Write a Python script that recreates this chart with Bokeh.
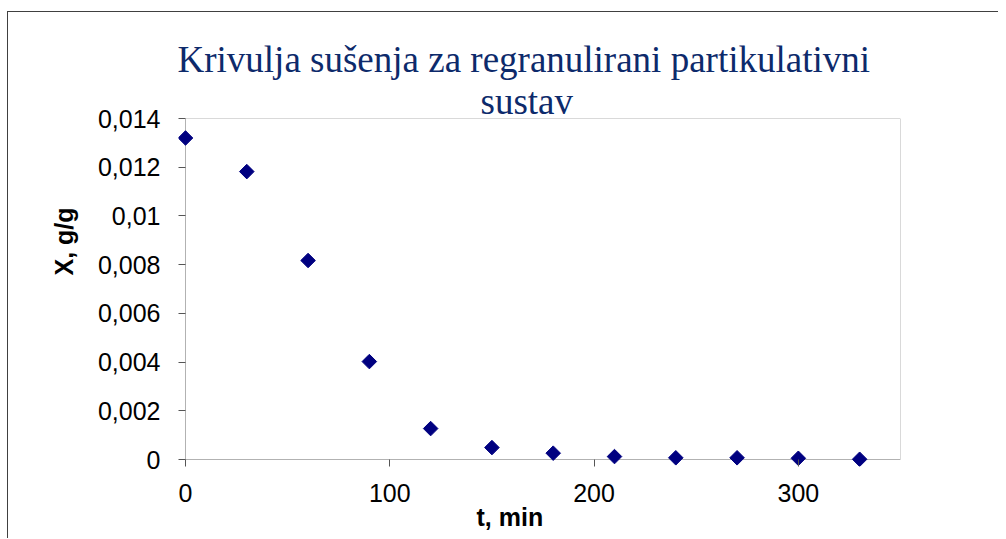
import numpy as np
from bokeh.plotting import figure
from bokeh.models import Range1d, CustomJSTickFormatter, FixedTicker, BoxAnnotation, Title
from bokeh.embed import file_html
from bokeh.resources import INLINE

# data
t_min = [0, 30, 60, 90, 120, 150, 180, 210, 240, 270, 300, 330]
X_gg = [0.0132, 0.01182, 0.00817, 0.00402, 0.00127, 0.00049, 0.00026,
        0.00012, 0.00007, 0.00007, 0.00005, 0.00001]
x_ticks = [0, 100, 200, 300]
y_ticks = [0, 0.002, 0.004, 0.006, 0.008, 0.01, 0.012, 0.014]
x_min, x_max = 0, 350
y_min, y_max = 0, 0.014
title_line1 = "Krivulja sušenja za regranulirani partikulativni"
title_line2 = "sustav"
x_label = "t, min"
y_label = "X, g/g"

# ranges padded slightly beyond the axes so that edge markers are not cut
x_pad = (x_max - x_min) * 7 / 715
y_pad = (y_max - y_min) * 7 / 341

p = figure(frame_width=722, frame_height=348, output_backend="svg", toolbar_location=None,
           title=None,
           x_range=Range1d(x_min - x_pad, x_max), y_range=Range1d(y_min - y_pad, y_max),
           min_border_left=170, min_border_right=98, min_border_top=106,
           min_border_bottom=72, margin=(11, 0, 0, 7),
           styles={"border-top": "1px solid #404040", "border-left": "1px solid #404040"})

p.background_fill_color = "white"
p.border_fill_color = "white"
p.outline_line_color = None
p.xgrid.visible = False
p.ygrid.visible = False

for ax in (p.xaxis[0], p.yaxis[0]):
    ax.axis_line_color = None
    ax.major_tick_line_color = "#555555"
    ax.major_tick_out = 0
    ax.major_tick_in = 7
    ax.minor_tick_line_color = None
    ax.major_label_text_font = "Liberation Sans"
    ax.major_label_text_font_size = "25px"
    ax.major_label_text_color = "black"

p.xaxis[0].ticker = FixedTicker(ticks=x_ticks)
p.yaxis[0].ticker = FixedTicker(ticks=y_ticks)
p.xaxis[0].major_label_standoff = 17
p.yaxis[0].major_label_standoff = 18
p.yaxis[0].formatter = CustomJSTickFormatter(
    code="return tick.toFixed(3).replace(/\\.?0+$/, '').replace('.', ',');")
p.xaxis[0].formatter = CustomJSTickFormatter(code="return tick.toFixed(0);")

# plot-area rectangle (axes lines + top/right border)
p.add_layout(BoxAnnotation(left=x_min, right=x_max, bottom=y_min, top=y_max,
                           fill_alpha=0, line_color="black", line_width=1, level="underlay"))

p.scatter(t_min, X_gg, marker="square", angle=np.pi / 4, size=10.3,
          fill_color="#000080", line_color="#000080")

title_style = dict(text_font="Liberation Serif", text_font_size="37px",
                   text_font_style="normal", text_color="#0d2a6b",
                   text_line_height=1.05)
p.add_layout(Title(text=title_line2, align="left", offset=302, standoff=-6, **title_style), "above")
p.add_layout(Title(text=title_line1, align="left", offset=-1, standoff=3, **title_style), "above")

p.add_layout(Title(text=x_label, align="left", offset=298, standoff=-7,
                   text_font="Liberation Sans", text_font_size="25px",
                   text_font_style="bold", text_color="black"), "below")
p.add_layout(Title(text=y_label, align="left", offset=191, standoff=33,
                   text_font="Liberation Sans", text_font_size="25px",
                   text_font_style="bold", text_color="black"), "left")

open("out.html", "w").write(file_html(p, INLINE))
